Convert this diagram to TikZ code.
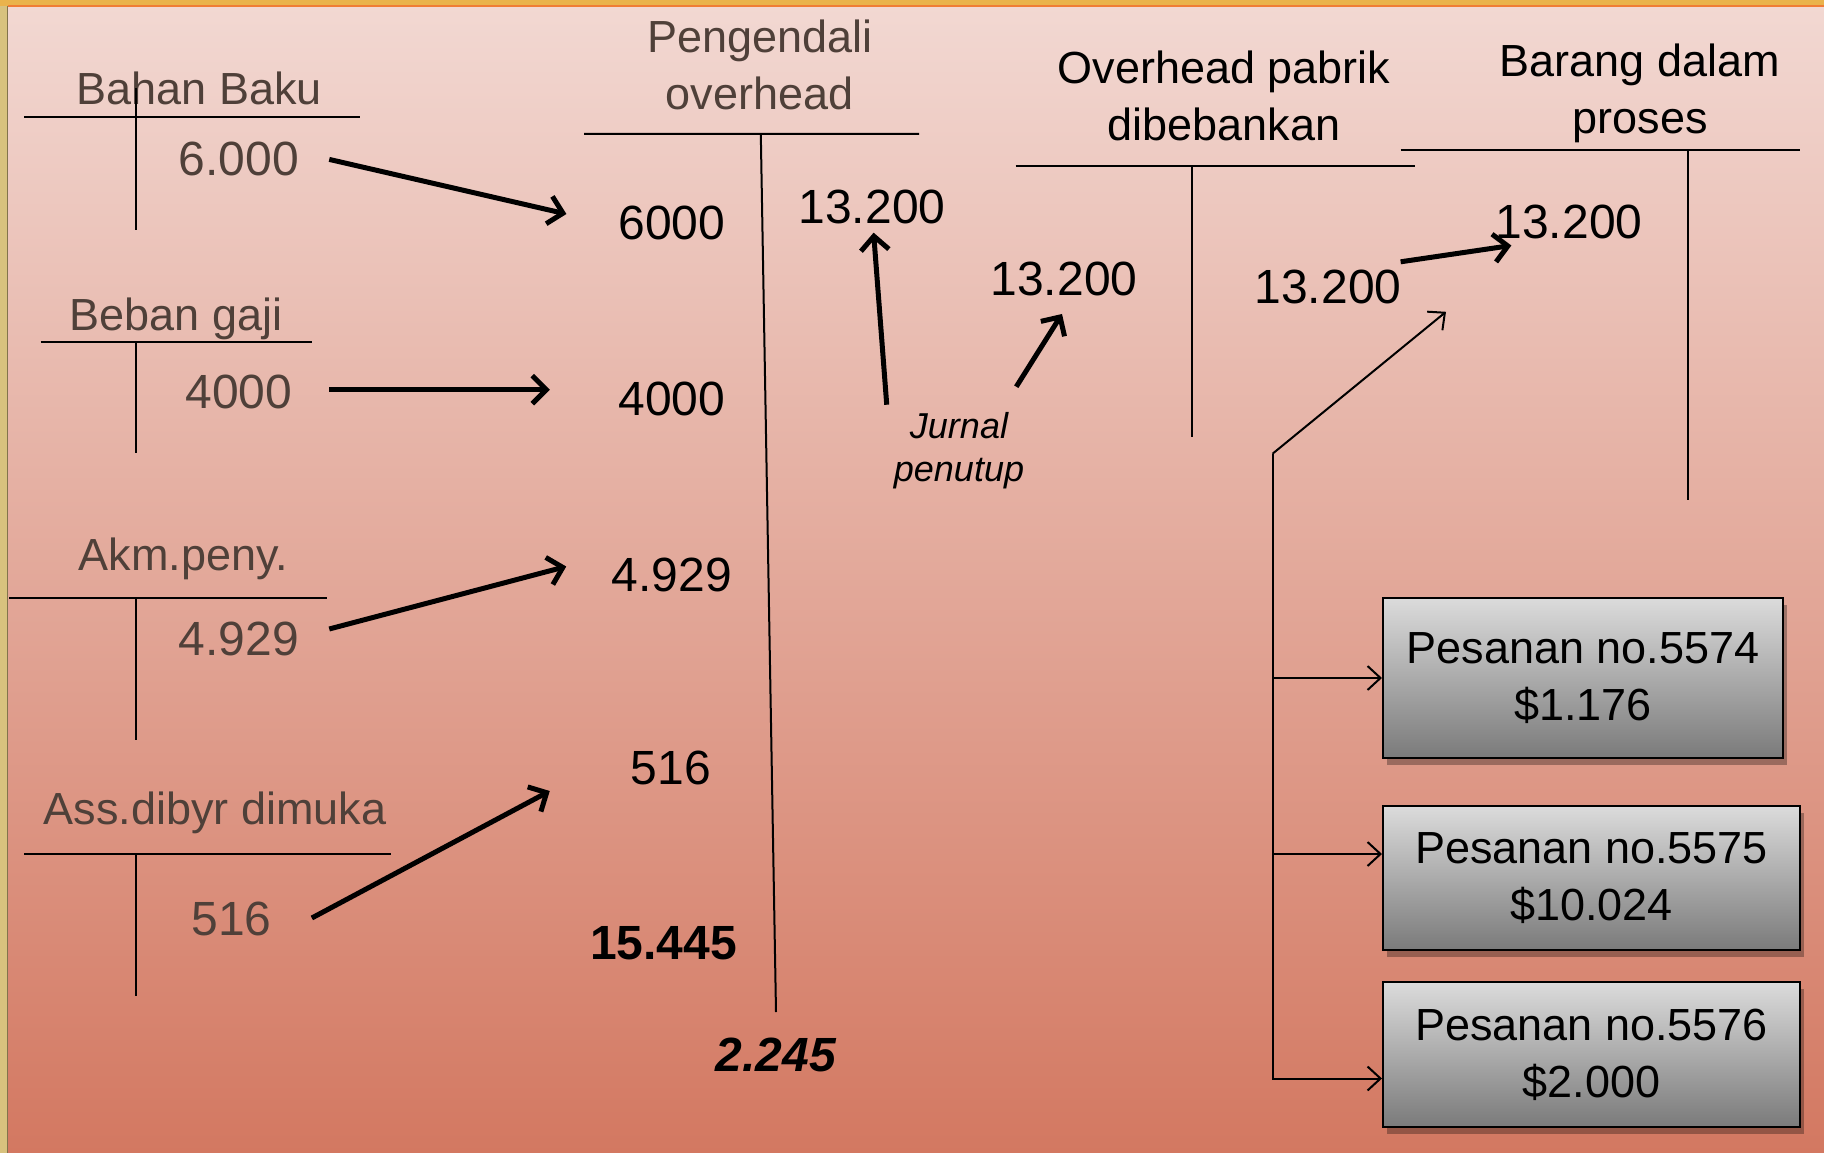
\documentclass[tikz,border=0pt]{standalone}
\usepackage{fontspec}
\setmainfont{Liberation Sans}
\usetikzlibrary{arrows.meta, positioning, calc, shadows}
\definecolor{ink}{HTML}{4F4039}
\definecolor{bgtop}{HTML}{F2D8D2}
\definecolor{bgmid}{HTML}{E1A797}
\definecolor{bgbot}{HTML}{D37861}
\definecolor{frame}{HTML}{D8C27E}
\definecolor{band}{HTML}{EAB34C}
\tikzset{
  ledger/.style={line width=2pt}, % the lines of a T account
  num/.style={font=\fontsize{48}{57}\selectfont, inner sep=0pt}, % amounts
  head/.style={font=\fontsize{45}{57}\selectfont, align=center, inner sep=0pt, anchor=base}, % account names (base = last line)
  note/.style={font=\itshape\fontsize{36}{43}\selectfont, align=center, inner sep=0pt, anchor=base},
  flow/.style={-{Straight Barb[length=14pt, width=28pt]}, line width=5pt}, % thick posting arrows
  link/.style={-{Straight Barb[length=13pt, width=24pt]}, line width=2pt}, % thin allocation lines
  job/.style={draw, line width=2pt, top color=black!14, bottom color=black!52,
    drop shadow={shadow xshift=4pt, shadow yshift=-7pt, fill=black, opacity=.3},
    font=\fontsize{45}{57}\selectfont, align=center, inner sep=0pt},
}

\begin{document}
\begin{tikzpicture}[x=1pt, y=-1pt]
\useasboundingbox (0,0) rectangle (1824,1153);
% background and frame
\fill[frame] (0,0) rectangle (1824,1153);
\fill[band] (0,0) rectangle (1824,6);
\shade[top color=bgtop, middle color=bgmid, bottom color=bgbot] (8,6) rectangle (1824,1153);
\draw[color=band!70!red, line width=2pt] (8,6) -- (1824,6);
\draw[color=frame!60!black, line width=1.5pt] (7.5,6) -- (7.5,1153);

% accounts on the left
\node[head, ink] (bb) at (199.5,105) {Bahan Baku};
\node[head, ink] (gj) at (175.8,330) {Beban gaji};
\node[head, ink] (ak) at (183.6,570) {Akm.peny.};
\node[head, ink] (as) at (215,824) {Ass.dibyr dimuka};
\draw[ledger] (24.4,117.5) -- (359.5,117.5) (136,88) -- (136,230);
\draw[ledger] (40.7,342) -- (311.8,342) (136,342) -- (136,452.5);
\draw[ledger] (9,598) -- (327,598) (136,598) -- (136,740);
\draw[ledger] (24.4,854) -- (391,854) (136,854) -- (136,996);
\node[num, ink] (bbv) at (239,159.4) {6.000};
\node[num, ink] (gjv) at (239,392) {4000};
\node[num, ink] (akv) at (239,638.6) {4.929};
\node[num, ink] (asv) at (231.6,919) {516};

% overhead control account
\node[head, ink] (po) at (759.6,110) {Pengendali\\overhead};
\draw[ledger] (584,133.8) -- (919,133.8) (760.8,133.8) -- (776,1012);
\node[num] (po1) at (672,223) {6000};
\node[num] (po2) at (672,399) {4000};
\node[num] (po3) at (672,575) {4.929};
\node[num] (po4) at (671,768) {516};
\node[num, font=\bfseries\fontsize{48}{57}\selectfont] (tot) at (663.6,943.5) {15.445};
\node[num, font=\bfseries\itshape\fontsize{48}{57}\selectfont] (bal) at (776,1055) {2.245};
\node[num] (poc) at (872,207) {13.200};
\node[note] (jp) at (959,481) {Jurnal\\penutup};

% applied overhead and work in process
\node[head] (oh) at (1224,141) {Overhead pabrik\\dibebankan};
\draw[ledger] (1015.6,166.4) -- (1414.6,166.4) (1191.5,166.4) -- (1191.5,437.4);
\node[num] (ohl) at (1064,279) {13.200};
\node[num] (ohr) at (1328,287) {13.200};
\node[head] (wp) at (1640,134) {Barang dalam\\proses};
\draw[ledger] (1400.6,150) -- (1799.6,150) (1688,150) -- (1688,500);
\node[num] (wip) at (1569,222) {13.200};

% job orders
\node[job, minimum width=400pt, minimum height=160pt] (o1) at (1583,678) {Pesanan no.5574\\\$1.176};
\node[job, minimum width=417pt, minimum height=144pt] (o2) at (1591.5,878) {Pesanan no.5575\\\$10.024};
\node[job, minimum width=417pt, minimum height=145pt] (o3) at (1591.5,1054.5) {Pesanan no.5576\\\$2.000};

% postings
\draw[flow] ($(bbv.east)+(30,0)$) -- ($(po1.west)+(-52,-9)$);
\draw[flow] ($(gjv.east)+(36.6,-2.3)$) -- ($(po2.west)+(-68.6,-9.3)$);
\draw[flow] ($(akv.east)+(30,-9.6)$) -- ($(po3.west)+(-45.5,-8.5)$);
\draw[flow] ($(asv.east)+(40,-1)$) -- ($(po4.west)+(-81,23)$);
\draw[flow] ($(jp.north west)+(-7,-7)$) -- ($(poc.south)+(1.6,8.5)$);
\draw[flow] ($(jp.north east)+(-8,-25)$) -- ($(ohl.south)+(-2,17.8)$);
\draw[flow] ($(ohr.north east)+(-1,-8)$) -- ($(wip.south west)+(16,6.3)$);

% allocation to the jobs
\coordinate (split) at (1272.6,453.7);
\coordinate (wipin) at (1446,311.8);
\draw[link] (split) -- (wipin);
\draw[link] (split) |- (o1.west);
\draw[link] (split) |- ($(o2.west)+(0,-24)$);
\draw[link] (split) |- ($(o3.west)+(0,24)$);
\end{tikzpicture}
\end{document}
